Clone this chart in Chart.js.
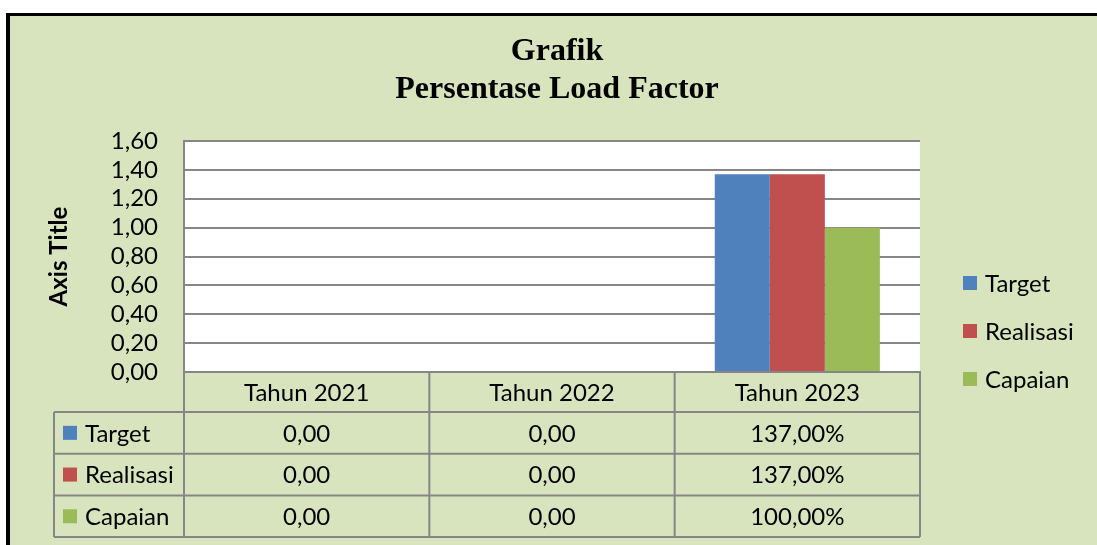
<!DOCTYPE html>
<html>
<head>
<meta charset="utf-8">
<script src="https://cdn.jsdelivr.net/npm/chart.js@4"></script>
<style>
html, body { margin: 0; padding: 0; background: #fff; }
</style>
</head>
<body>
<canvas id="loadChart" width="1097" height="545"></canvas>
<script>
// data
var categories = ["Tahun 2021", "Tahun 2022", "Tahun 2023"];
var seriesNames = ["Target", "Realisasi", "Capaian"];
var target = [0, 0, 1.37];
var realisasi = [0, 0, 1.37];
var capaian = [0, 0, 1.00];
var seriesColors = ["#4F81BD", "#C0504D", "#9BBB59"];
var titleLines = ["Grafik", "Persentase Load Factor"];

var GREEN = "#D7E4BD";
var LINE = "#868686";
var FONT = "Lato, 'Open Sans', sans-serif";

function tableText(v) {
    if (v === 0) return "0,00";
    return (v * 100).toFixed(2).replace(".", ",") + "%";
}

// background, frame, title, legend and data table
var excelLook = {
    id: "excelLook",
    beforeDraw: function (chart) {
        var ctx = chart.ctx, a = chart.chartArea;
        ctx.save();
        ctx.fillStyle = "#fff";
        ctx.fillRect(0, 0, chart.width, chart.height);
        ctx.fillStyle = GREEN;
        ctx.fillRect(10, 16, chart.width - 10, chart.height - 16);
        ctx.fillStyle = "#000";
        ctx.fillRect(6, 13, 4, chart.height - 13);
        ctx.fillRect(6, 13, chart.width - 6, 3);
        ctx.fillStyle = "#fff";
        ctx.fillRect(a.left, a.top, a.right - a.left, a.bottom - a.top);
        ctx.restore();
    },
    afterDraw: function (chart) {
        var ctx = chart.ctx, a = chart.chartArea, xs = chart.scales.x;
        ctx.save();

        // title
        ctx.fillStyle = "#000";
        ctx.textAlign = "center";
        ctx.textBaseline = "middle";
        ctx.font = "bold 32px 'Liberation Serif', serif";
        titleLines.forEach(function (t, i) {
            ctx.fillText(t, 557, 52 + i * 38);
        });

        // legend
        ctx.font = "24px " + FONT;
        ctx.textAlign = "left";
        chart.data.datasets.forEach(function (ds, i) {
            var y = 283 + i * 48;
            ctx.fillStyle = ds.backgroundColor;
            ctx.fillRect(963, y - 7, 14, 14);
            ctx.fillStyle = "#000";
            ctx.fillText(ds.label, 985, y + 1);
        });

        // data table
        var colW = (a.right - a.left) / categories.length;
        var top = a.bottom, headH = 40, rowH = 41.7;
        var tblLeft = 54;
        var bottom = top + headH + rowH * seriesNames.length;
        ctx.strokeStyle = LINE;
        ctx.lineWidth = 2;
        ctx.beginPath();
        for (var k = 0; k <= categories.length; k++) {
            var x = a.left + k * colW;
            ctx.moveTo(x, top);
            ctx.lineTo(x, bottom);
        }
        for (var r = 0; r <= seriesNames.length; r++) {
            var y = top + headH + r * rowH;
            ctx.moveTo(tblLeft, y);
            ctx.lineTo(a.right, y);
        }
        ctx.moveTo(tblLeft, top + headH);
        ctx.lineTo(tblLeft, bottom);
        ctx.stroke();

        ctx.font = "24px " + FONT;
        ctx.fillStyle = "#000";
        ctx.textAlign = "center";
        categories.forEach(function (c, i) {
            ctx.fillText(c, xs.getPixelForValue(i), top + headH / 2 + 1);
        });
        chart.data.datasets.forEach(function (ds, r) {
            var cy = top + headH + r * rowH + rowH / 2;
            ctx.fillStyle = ds.backgroundColor;
            ctx.fillRect(63, cy - 7, 14, 14);
            ctx.fillStyle = "#000";
            ctx.textAlign = "left";
            ctx.fillText(ds.label, 85, cy + 1);
            ctx.textAlign = "center";
            ds.data.forEach(function (v, i) {
                ctx.fillText(tableText(v), xs.getPixelForValue(i), cy + 1);
            });
        });
        ctx.restore();
    }
};

var chartOne = document.getElementById("loadChart").getContext("2d");
var myChart = new Chart(chartOne, {
    type: "bar",
    data: {
        labels: categories,
        datasets: [
            { label: seriesNames[0], data: target, backgroundColor: seriesColors[0], borderWidth: 0 },
            { label: seriesNames[1], data: realisasi, backgroundColor: seriesColors[1], borderWidth: 0 },
            { label: seriesNames[2], data: capaian, backgroundColor: seriesColors[2], borderWidth: 0 }
        ]
    },
    options: {
        responsive: false,
        animation: false,
        layout: { padding: { left: 40, top: 141, right: 177, bottom: 173 } },
        datasets: { bar: { barPercentage: 1, categoryPercentage: 0.673 } },
        plugins: {
            legend: { display: false },
            title: { display: false },
            tooltip: { enabled: false }
        },
        scales: {
            x: {
                ticks: { display: false },
                grid: { display: false },
                border: { display: true, color: LINE, width: 2 },
                afterFit: function (s) { s.height = 0; }
            },
            y: {
                min: 0,
                max: 1.6,
                ticks: {
                    stepSize: 0.2,
                    autoSkip: false,
                    padding: 26,
                    color: "#000",
                    font: { family: FONT, size: 24 },
                    callback: function (v) { return v.toFixed(2).replace(".", ","); }
                },
                grid: { color: LINE, lineWidth: 2, drawTicks: false },
                border: { display: true, color: LINE, width: 2 },
                title: {
                    display: true,
                    text: "Axis Title",
                    color: "#000",
                    font: { family: FONT, size: 24, weight: "bold" },
                    padding: { top: 5, bottom: 0 }
                },
                afterFit: function (s) { s.width = 144; }
            }
        }
    },
    plugins: [excelLook]
});
</script>
</body>
</html>
